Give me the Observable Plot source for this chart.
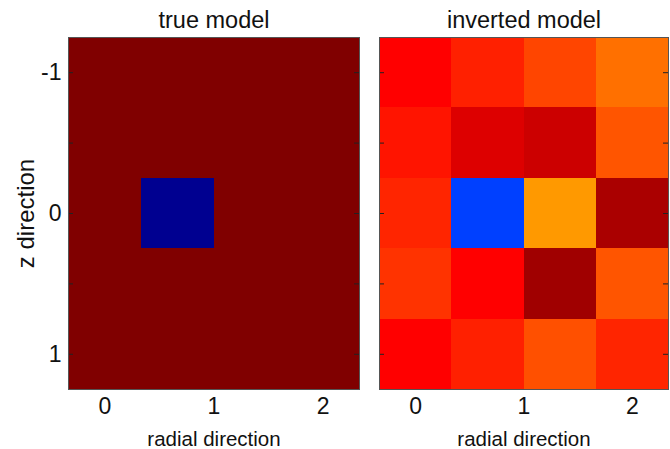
<!DOCTYPE html>
<html>
<head>
<meta charset="utf-8">
<script src="https://cdn.jsdelivr.net/npm/d3@7"></script>
<script src="https://cdn.jsdelivr.net/npm/@observablehq/plot@0.6"></script>
<style>
  html, body { margin: 0; padding: 0; background: #fff; }
  #chart { position: relative; width: 670px; height: 449px; overflow: hidden; }
  #left, #right { position: absolute; top: 0; }
  #left { left: 0; }
  #right { left: 370px; }
</style>
</head>
<body>
<div id="chart"><div id="left"></div><div id="right"></div></div>
<script>
// grid coordinates
const radial = [0, 2/3, 4/3, 2];
const zdir = [-1, -0.5, 0, 0.5, 1];
// tick values / labels
const xTicks = [0, 1, 2];
const yTicks = [-1, -0.5, 0, 0.5, 1];
const titles = ["true model", "inverted model"];
const xLabel = "radial direction";
const yLabel = "z direction";
// values (normalised on the jet colour map, 0 = dark blue, 1 = dark red)
const trueModel = [
  [1, 1, 1, 1],
  [1, 1, 1, 1],
  [1, 0.016, 1, 1],
  [1, 1, 1, 1],
  [1, 1, 1, 1]
];
const invertedModel = [
  [0.875, 0.844, 0.807, 0.765],
  [0.855, 0.908, 0.925, 0.792],
  [0.839, 0.1875, 0.725, 0.958],
  [0.825, 0.875, 0.968, 0.792],
  [0.875, 0.844, 0.797, 0.839]
];

function jet(t) {
  const c = v => Math.round(255 * Math.max(0, Math.min(1, v)));
  return `rgb(${c(1.5 - Math.abs(4 * t - 3))},${c(1.5 - Math.abs(4 * t - 2))},${c(1.5 - Math.abs(4 * t - 1))})`;
}

const dr = (radial[1] - radial[0]) / 2;
const dz = (zdir[1] - zdir[0]) / 2;
const toCells = M => zdir.flatMap((z, i) => radial.map((r, j) => ({r, z, v: M[i][j]})));

const font = "'Liberation Sans', Arial, Helvetica, sans-serif";

function panel({M, title, width, marginLeft, marginRight, yLabels}) {
  const marginTop = 37, marginBottom = 60, height = 449;
  const innerW = width - marginLeft - marginRight;
  const marks = [
    Plot.rect(toCells(M), {
      x1: d => d.r - dr, x2: d => d.r + dr,
      y1: d => d.z - dz, y2: d => d.z + dz,
      fill: "v", shapeRendering: "crispEdges"
    }),
    // inward ticks on the left and right edges
    Plot.tickY(yTicks, {y: d => d, insetRight: innerW - 5, stroke: "#222", strokeWidth: 1}),
    Plot.tickY(yTicks, {y: d => d, insetLeft: innerW - 5, stroke: "#222", strokeWidth: 1}),
    Plot.frame({stroke: "#555", strokeWidth: 1}),
    Plot.axisX({ticks: xTicks, tickSize: 0, tickPadding: 8, label: null, tickFormat: d => String(d), fontSize: 23, fill: "#111"}),
    Plot.text([title], {text: d => d, frameAnchor: "top", dy: -9.5, lineAnchor: "bottom", fontSize: 23.5, fill: "#111"}),
    Plot.text([xLabel], {text: d => d, frameAnchor: "bottom", dy: 56, lineAnchor: "bottom", fontSize: 20.5, fill: "#111"})
  ];
  if (yLabels) {
    marks.push(
      Plot.axisY({ticks: yTicks, tickSize: 0, tickPadding: 7, label: null,
        tickFormat: d => Number.isInteger(d) ? String(d) : "", fontSize: 23, fill: "#111"}),
      Plot.text([yLabel], {text: d => d, frameAnchor: "left", dx: -35, rotate: -90,
        lineAnchor: "bottom", textAnchor: "middle", fontSize: 24, fill: "#111"})
    );
  } else {
    marks.push(Plot.axisY({ticks: [], label: null}));
  }
  return Plot.plot({
    width, height, marginTop, marginBottom, marginLeft, marginRight,
    style: {fontFamily: font, fontSize: "23px", background: "#fff", overflow: "visible"},
    x: {domain: [radial[0] - dr, radial[radial.length - 1] + dr], label: null},
    y: {domain: [zdir[0] - dz, zdir[zdir.length - 1] + dz], reverse: true, label: null},
    color: {type: "linear", domain: [0, 1], interpolate: jet},
    marks
  });
}

document.getElementById("left").append(panel({M: trueModel, title: titles[0], width: 370, marginLeft: 68, marginRight: 11, yLabels: true}));
document.getElementById("right").append(panel({M: invertedModel, title: titles[1], width: 300, marginLeft: 9, marginRight: 2, yLabels: false}));
</script>
</body>
</html>
